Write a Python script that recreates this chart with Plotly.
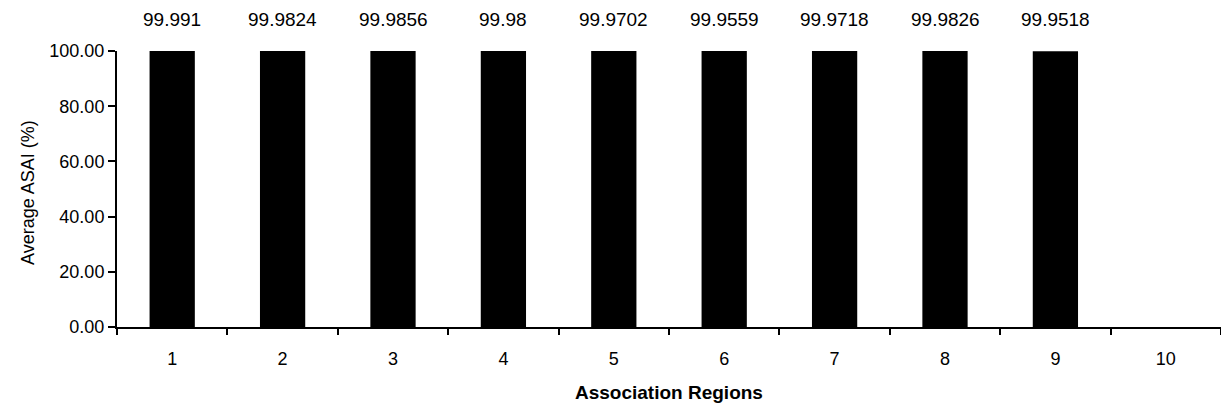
import plotly.graph_objects as go

# Association regions and their average ASAI values (%)
regions = ["1", "2", "3", "4", "5", "6", "7", "8", "9", "10"]
asai = [99.991, 99.9824, 99.9856, 99.98, 99.9702, 99.9559, 99.9718, 99.9826, 99.9518, None]
asai_labels = ["99.991", "99.9824", "99.9856", "99.98", "99.9702",
               "99.9559", "99.9718", "99.9826", "99.9518", ""]
y_ticks = [0, 20, 40, 60, 80, 100]

FONT = "Arial, Liberation Sans, sans-serif"

fig = go.Figure(
    go.Bar(
        x=regions,
        y=asai,
        marker=dict(color="black", line=dict(width=0)),
        width=0.41,
        hoverinfo="x+y",
    )
)

# value labels floating above each bar (category index as x position)
for i, (v, lbl) in enumerate(zip(asai, asai_labels)):
    if v is None or not lbl:
        continue
    fig.add_annotation(
        x=i, y=v, text=lbl, showarrow=False,
        yanchor="bottom", yshift=19,
        font=dict(family=FONT, size=19, color="black"),
    )

fig.add_annotation(
    xref="paper", yref="paper", x=0, y=0.5, xshift=-101, yshift=-4,
    text="Average ASAI (%)", textangle=-90, showarrow=False,
    font=dict(family=FONT, size=18, color="black"),
)
fig.add_annotation(
    xref="paper", yref="paper", x=0.5, y=0, yshift=-65,
    text="<b>Association Regions</b>", showarrow=False, yanchor="middle",
    font=dict(family=FONT, size=19, color="black"),
)

fig.update_layout(
    width=1221, height=407,
    margin=dict(l=117, r=0, t=51, b=80),
    paper_bgcolor="white", plot_bgcolor="white",
    showlegend=False,
    font=dict(family=FONT, size=18, color="black"),
)
fig.update_xaxes(
    type="category", range=[-0.5, 9.5],
    showline=True, linecolor="black", linewidth=2,
    ticks="outside", tickson="boundaries", ticklen=6, tickwidth=2, tickcolor="black",
    ticklabelstandoff=14,
    showgrid=False, zeroline=False,
    tickfont=dict(family=FONT, size=18, color="black"),
)
fig.update_yaxes(
    range=[0, 100], tickvals=y_ticks, tickformat=".2f",
    showline=True, linecolor="black", linewidth=2,
    ticks="outside", ticklen=7, tickwidth=2, tickcolor="black",
    showgrid=False, zeroline=False,
    tickfont=dict(family=FONT, size=18, color="black"),
)

fig.write_html("out.html")
